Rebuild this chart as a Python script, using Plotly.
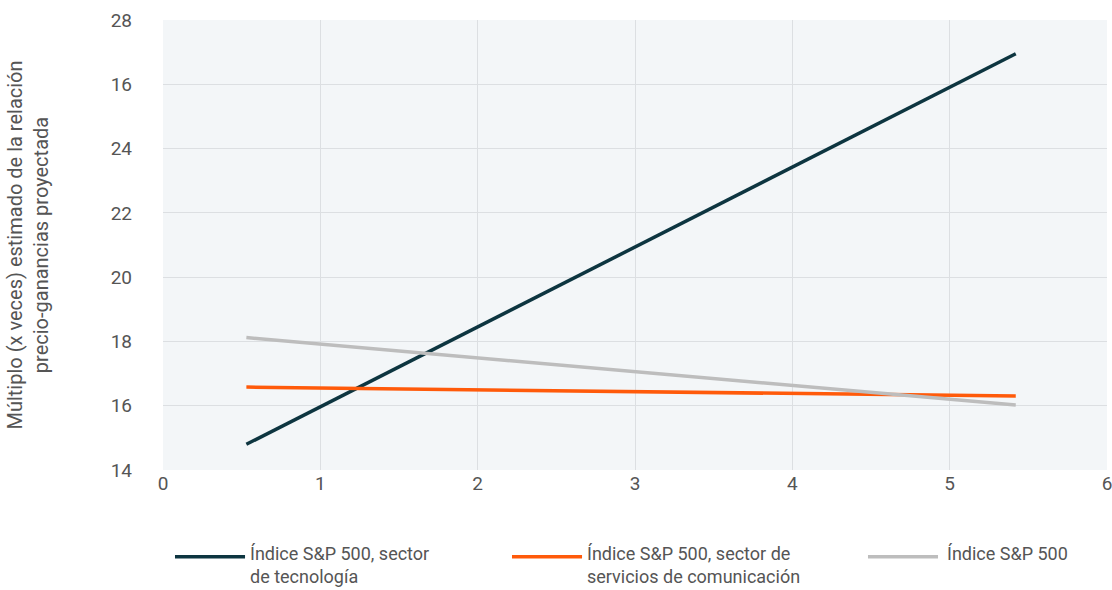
import plotly.graph_objects as go

# Series endpoints (x on the horizontal scale, forward P/E multiple on y)
tech_x = [0.53, 5.42]
tech_y = [14.8, 26.95]

comm_x = [0.53, 2.0, 4.0, 5.42]
comm_y = [16.58, 16.49, 16.38, 16.3]

sp500_x = [0.53, 5.42]
sp500_y = [18.12, 16.02]

names = [
    "Índice S&P 500, sector<br>de tecnología",
    "Índice S&P 500, sector de<br>servicios de comunicación",
    "Índice S&P 500",
]
colors = ["#0d3540", "#ff5a0a", "#bdbdbd"]

y_tickvals = [14, 16, 18, 20, 22, 24, 26, 28]
y_ticktext = ["14", "16", "18", "20", "22", "24", "16", "28"]
x_tickvals = [0, 1, 2, 3, 4, 5, 6]

font_family = "Roboto, 'Open Sans', sans-serif"
text_color = "#555555"

fig = go.Figure()
for xs, ys, name, color in zip([tech_x, comm_x, sp500_x], [tech_y, comm_y, sp500_y], names, colors):
    fig.add_trace(go.Scatter(
        x=xs, y=ys, mode="lines", name=name, showlegend=False,
        line=dict(color=color, width=3.5),
    ))

# Legend drawn below the plot: a line swatch and a two-line label per series
legend_swatch_x = [(0.0127, 0.0869), (0.3697, 0.4439), (0.7468, 0.8210)]
legend_text_x = [0.090, 0.447, 0.828]
swatch_y = -0.193
for (x0, x1), tx, name, color in zip(legend_swatch_x, legend_text_x, names, colors):
    fig.add_shape(type="line", xref="paper", yref="paper",
                  x0=x0, x1=x1, y0=swatch_y, y1=swatch_y,
                  line=dict(color=color, width=3.5))
    fig.add_annotation(xref="paper", yref="paper", x=tx, y=-0.158,
                       xanchor="left", yanchor="top", align="left",
                       text=name, showarrow=False,
                       font=dict(family=font_family, size=18, color=text_color))

fig.update_layout(
    width=1112, height=590,
    margin=dict(l=163, r=5, t=20, b=120, autoexpand=False),
    paper_bgcolor="white",
    plot_bgcolor="#f3f6f8",
    font=dict(family=font_family, size=19, color=text_color),
    showlegend=False,
    xaxis=dict(
        range=[0, 6],
        tickvals=x_tickvals,
        showgrid=True, gridcolor="#dcdfe2", gridwidth=1,
        zeroline=False, showline=False,
        ticks="", ticklabelstandoff=0,
        ticklabeloverflow="allow",
        automargin=False,
        tickfont=dict(family=font_family, size=19, color=text_color),
    ),
    yaxis=dict(
        range=[14, 28],
        tickvals=y_tickvals, ticktext=y_ticktext,
        showgrid=True, gridcolor="#dcdfe2", gridwidth=1,
        zeroline=False, showline=False,
        ticks="", ticklabelstandoff=30,
        automargin=False,
        tickfont=dict(family=font_family, size=19, color=text_color),
        title=dict(
            text="Múltiplo (x veces) estimado de la relación<br>precio-ganancias proyectada",
            font=dict(family=font_family, size=20, color=text_color),
            standoff=56,
        ),
    ),
)

fig.write_html("out.html")
